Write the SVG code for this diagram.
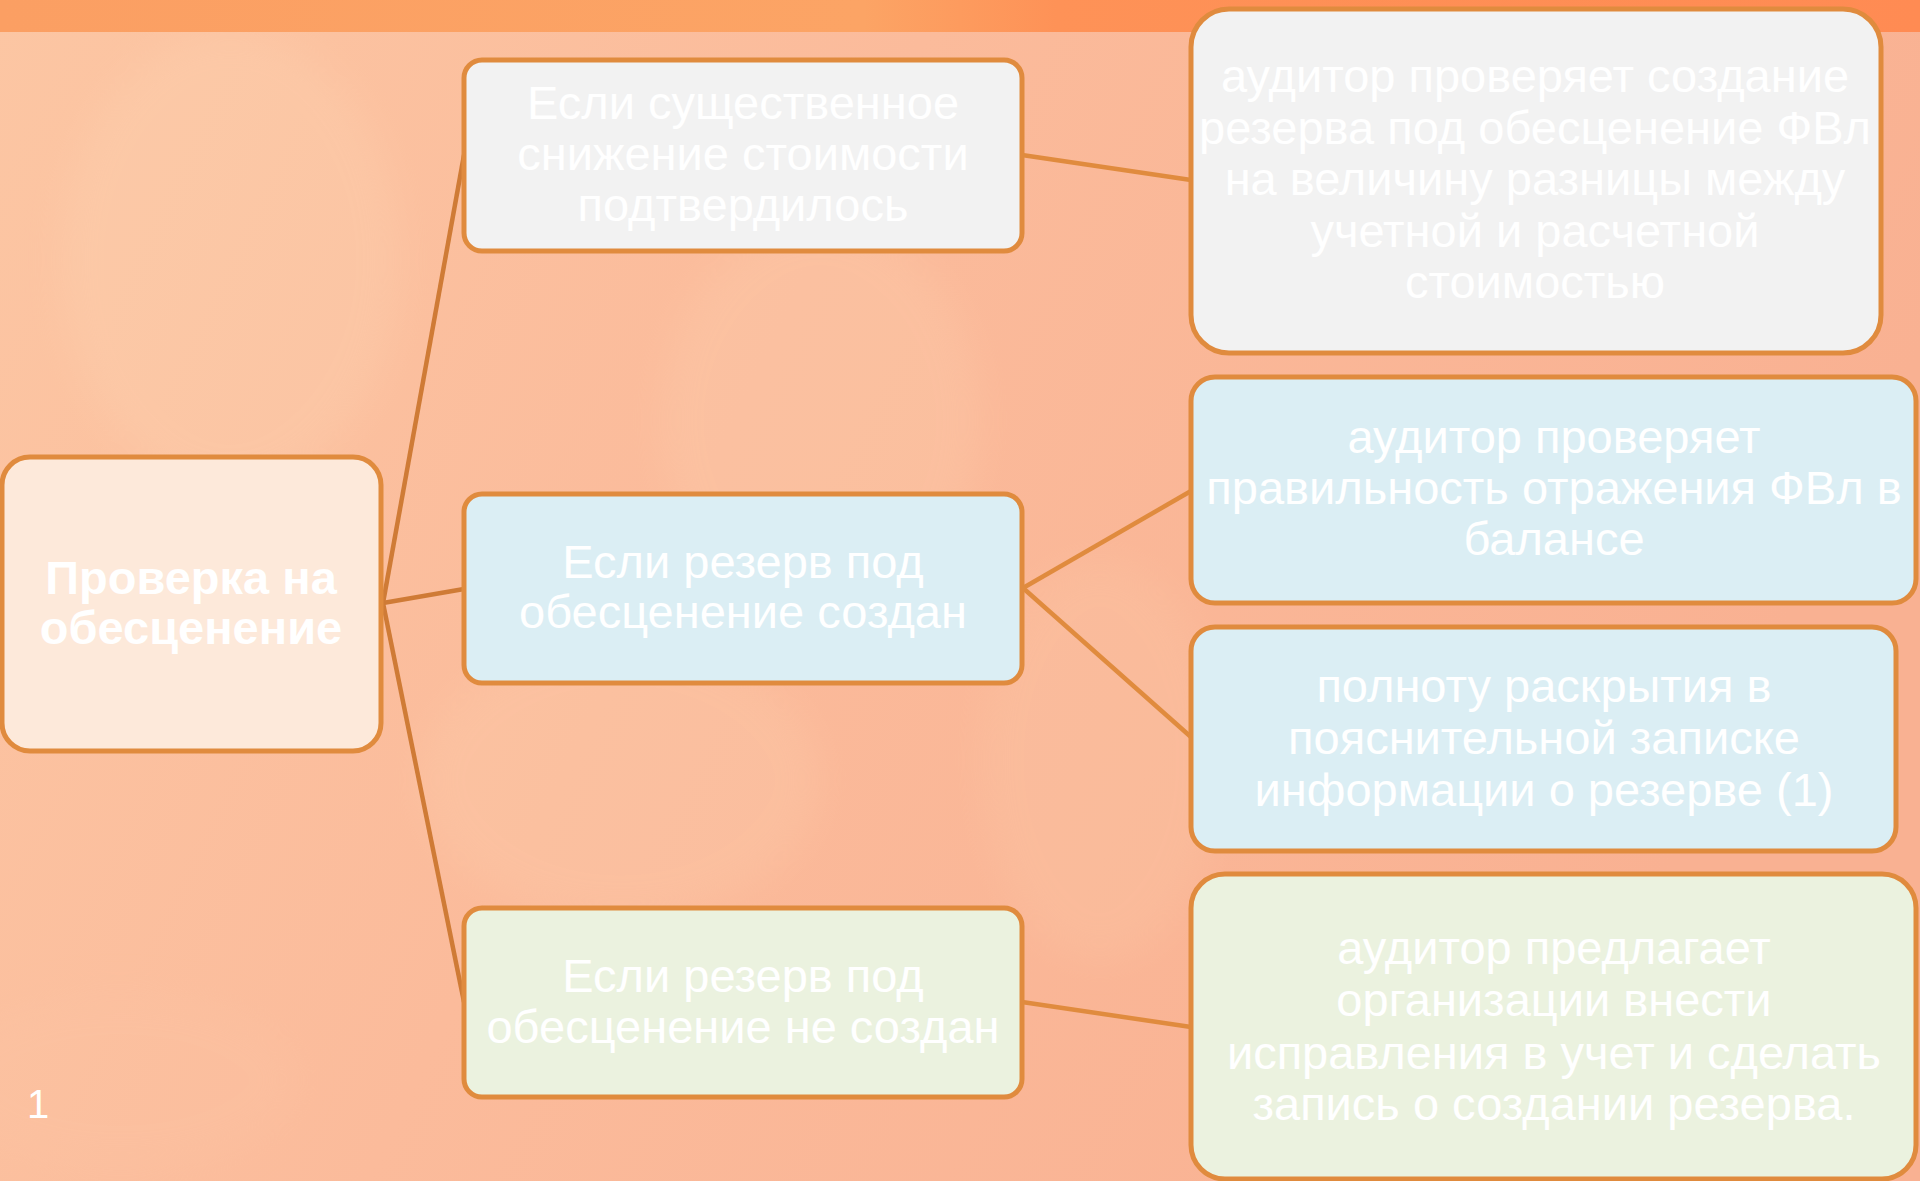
<svg xmlns="http://www.w3.org/2000/svg" width="1920" height="1181" viewBox="0 0 1920 1181">
  <defs>
    <linearGradient id="bg" x1="0" y1="0" x2="1" y2="0.3">
      <stop offset="0" stop-color="#fcc6a3"/>
      <stop offset="0.45" stop-color="#fbbb9b"/>
      <stop offset="1" stop-color="#f9b192"/>
    </linearGradient>
    <linearGradient id="band" x1="0" y1="0" x2="1" y2="0">
      <stop offset="0" stop-color="#fb9f63"/>
      <stop offset="0.45" stop-color="#fca465"/>
      <stop offset="0.55" stop-color="#fe9257"/>
      <stop offset="1" stop-color="#ff8b53"/>
    </linearGradient>
    <filter id="soft" x="-20%" y="-20%" width="140%" height="140%">
      <feGaussianBlur stdDeviation="18"/>
    </filter>
    <style>
      .node { stroke: #e08b3e; stroke-width: 5; }
      .root { fill: #fde9da; }
      .grey { fill: #f2f2f2; }
      .blue { fill: #dbeef4; }
      .green { fill: #ebf2df; }
      .txt { font-family: "Liberation Sans", Arial, sans-serif; font-size: 47px; fill: #ffffff; text-anchor: middle; }
      .bold { font-weight: bold; }
      .link { stroke: #e08b3e; stroke-width: 4.5; fill: none; }
      .link-root { stroke: #cf7b36; stroke-width: 4.5; fill: none; }
    </style>
  </defs>

  <!-- background -->
  <rect x="0" y="0" width="1920" height="1181" fill="url(#bg)"/>
  <g filter="url(#soft)" opacity="0.25">
    <ellipse cx="230" cy="260" rx="170" ry="230" fill="#fdd7b6"/>
    <ellipse cx="820" cy="420" rx="160" ry="200" fill="#fdd2b0"/>
    <ellipse cx="620" cy="780" rx="200" ry="140" fill="#fdd0ae"/>
    <ellipse cx="1100" cy="760" rx="120" ry="200" fill="#fccaa8"/>
    <ellipse cx="120" cy="1080" rx="180" ry="90" fill="#fcc4a4"/>
  </g>
  <rect x="0" y="0" width="1920" height="32" fill="url(#band)"/>

  <!-- connectors -->
  <g id="connectors">
    <line class="link-root" x1="383" y1="603" x2="464" y2="155"/>
    <line class="link-root" x1="383" y1="603" x2="464" y2="589"/>
    <line class="link-root" x1="383" y1="603" x2="464" y2="1002"/>
    <line class="link" x1="1022" y1="155" x2="1191" y2="180"/>
    <line class="link" x1="1023" y1="588" x2="1191" y2="491"/>
    <line class="link" x1="1023" y1="588" x2="1191" y2="737"/>
    <line class="link" x1="1022" y1="1002" x2="1191" y2="1027"/>
  </g>

  <!-- root -->
  <g id="root">
    <rect class="node root" x="2" y="457" width="379" height="294" rx="28"/>
    <text class="txt bold" x="191" y="594">Проверка на</text>
    <text class="txt bold" x="191" y="644">обесценение</text>
  </g>

  <!-- level 1 -->
  <g id="node-a">
    <rect class="node grey" x="464" y="60" width="558" height="191" rx="18"/>
    <text class="txt" x="743" y="119">Если существенное</text>
    <text class="txt" x="743" y="170">снижение стоимости</text>
    <text class="txt" x="743" y="221">подтвердилось</text>
  </g>
  <g id="node-b">
    <rect class="node blue" x="464" y="494" width="558" height="189" rx="18"/>
    <text class="txt" x="743" y="578">Если резерв под</text>
    <text class="txt" x="743" y="628">обесценение создан</text>
  </g>
  <g id="node-c">
    <rect class="node green" x="464" y="908" width="558" height="189" rx="18"/>
    <text class="txt" x="743" y="992">Если резерв под</text>
    <text class="txt" x="743" y="1043">обесценение не создан</text>
  </g>

  <!-- level 2 -->
  <g id="node-r1">
    <rect class="node grey" x="1191" y="9" width="690" height="344" rx="38"/>
    <text class="txt" x="1535" y="92">аудитор проверяет создание</text>
    <text class="txt" x="1535" y="144">резерва под обесценение ФВл</text>
    <text class="txt" x="1535" y="195">на величину разницы между</text>
    <text class="txt" x="1535" y="247">учетной и расчетной</text>
    <text class="txt" x="1535" y="298">стоимостью</text>
  </g>
  <g id="node-r2">
    <rect class="node blue" x="1191" y="377" width="725" height="226" rx="24"/>
    <text class="txt" x="1554" y="453">аудитор проверяет</text>
    <text class="txt" x="1554" y="504">правильность отражения ФВл в</text>
    <text class="txt" x="1554" y="555">балансе</text>
  </g>
  <g id="node-r3">
    <rect class="node blue" x="1191" y="627" width="705" height="224" rx="24"/>
    <text class="txt" x="1544" y="702">полноту раскрытия в</text>
    <text class="txt" x="1544" y="754">пояснительной записке</text>
    <text class="txt" x="1544" y="806">информации о резерве (1)</text>
  </g>
  <g id="node-r4">
    <rect class="node green" x="1191" y="874" width="725" height="305" rx="34"/>
    <text class="txt" x="1554" y="964">аудитор предлагает</text>
    <text class="txt" x="1554" y="1016">организации внести</text>
    <text class="txt" x="1554" y="1069">исправления в учет и сделать</text>
    <text class="txt" x="1554" y="1120">запись о создании резерва.</text>
  </g>

  <!-- page number -->
  <text x="38" y="1118" font-family="'Liberation Sans', Arial, sans-serif" font-size="40" fill="#ffffff" text-anchor="middle">1</text>
</svg>
